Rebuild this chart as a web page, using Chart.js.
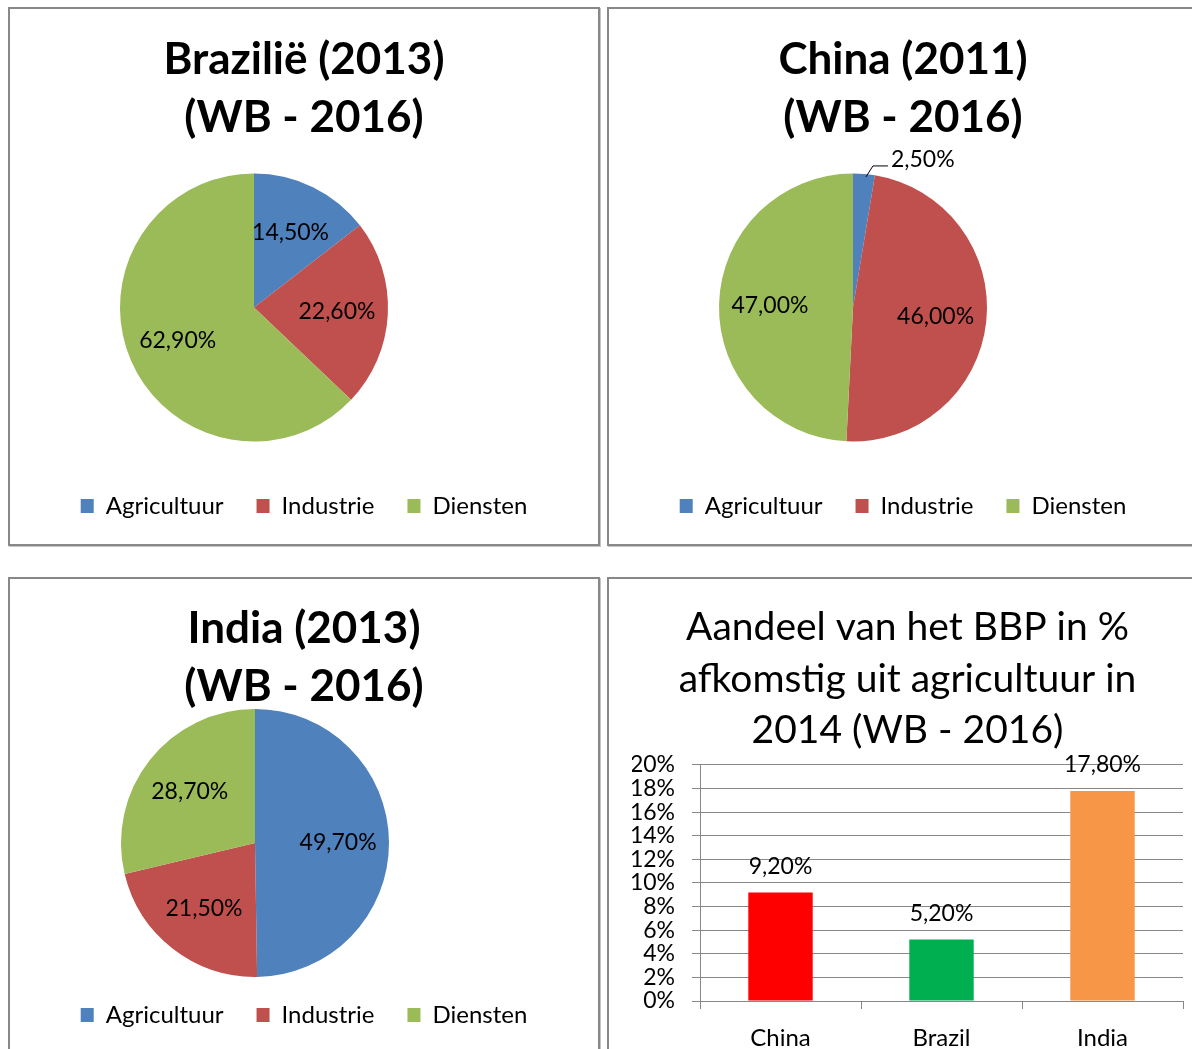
<!DOCTYPE html>
<html>
<head>
<meta charset="utf-8">
<script src="https://cdn.jsdelivr.net/npm/chart.js"></script>
<style>
    body { margin: 0; background: #fff; width: 1192px; height: 1049px; overflow: hidden; position: relative; }
    .panel { position: absolute; width: 592px; border: 2px solid #888; box-shadow: 1px 1px 0 #c4c4c4; box-sizing: border-box; background: #fff; }
    .panel .box { position: relative; width: 588px; height: 100%; }
    #p1 { left: 8px; top: 7px; height: 539px; }
    #p2 { left: 607px; top: 7px; height: 539px; }
    #p3 { left: 8px; top: 577px; height: 480px; }
    #p4 { left: 607px; top: 577px; height: 480px; }
</style>
</head>
<body>

<div class="panel" id="p1"><div class="box"><canvas id="brazilChart"></canvas></div></div>
<div class="panel" id="p2"><div class="box"><canvas id="chinaChart"></canvas></div></div>
<div class="panel" id="p3"><div class="box"><canvas id="indiaChart"></canvas></div></div>
<div class="panel" id="p4"><div class="box"><canvas id="agriChart"></canvas></div></div>

<script>
    // Sectors shown in the three pies
    const sectors = ['Agricultuur', 'Industrie', 'Diensten'];
    const sectorColors = ['#4F81BD', '#C0504D', '#9BBB59'];

    const brazilShares = [14.5, 22.6, 62.9];
    const chinaShares = [2.5, 46.0, 47.0];
    const indiaShares = [49.7, 21.5, 28.7];

    // Bar chart: agriculture share of GDP in 2014
    const countries = ['China', 'Brazil', 'India'];
    const agriShares = [9.2, 5.2, 17.8];
    const countryColors = ['#FF0000', '#00B050', '#F79646'];
    const yTicks = [0, 2, 4, 6, 8, 10, 12, 14, 16, 18, 20];

    const FONT = 'Lato, "Open Sans", sans-serif';

    function fmtPct(v) {
        return v.toFixed(2).replace('.', ',') + '%';
    }

    // put the pie at a fixed spot inside the canvas (Excel has it left of centre)
    const piePlacement = {
        id: 'piePlacement',
        afterLayout(chart, args, opts) {
            if (opts.cx == null) return;
            const a = chart.chartArea;
            a.left = opts.cx - opts.r;
            a.right = opts.cx + opts.r;
            a.top = opts.cy - opts.r;
            a.bottom = opts.cy + opts.r;
            a.width = 2 * opts.r;
            a.height = 2 * opts.r;
        }
    };

    // percentage labels in the slices, small slices get a leader line
    const sliceLabels = {
        id: 'sliceLabels',
        afterDraw(chart, args, opts) {
            if (!opts.show) return;
            const ctx = chart.ctx;
            const values = chart.data.datasets[0].data;
            ctx.save();
            ctx.font = '23px ' + FONT;
            ctx.fillStyle = '#000';
            ctx.strokeStyle = '#000';
            ctx.lineWidth = 1;
            chart.getDatasetMeta(0).data.forEach((arc, i) => {
                const p = arc.getProps(['x', 'y', 'startAngle', 'endAngle', 'outerRadius'], true);
                const mid = (p.startAngle + p.endAngle) / 2;
                const text = fmtPct(values[i]);
                if (values[i] < 5) {
                    const sx = p.x + Math.cos(mid) * (p.outerRadius - 1);
                    const sy = p.y + Math.sin(mid) * (p.outerRadius - 1);
                    ctx.beginPath();
                    ctx.moveTo(sx + 2, sy + 2);
                    ctx.lineTo(sx + 9, sy - 9);
                    ctx.lineTo(sx + 24, sy - 9);
                    ctx.stroke();
                    ctx.textAlign = 'left';
                    ctx.textBaseline = 'middle';
                    ctx.fillText(text, sx + 27, sy - 15);
                } else {
                    const r = p.outerRadius * 0.62;
                    ctx.textAlign = 'center';
                    ctx.textBaseline = 'middle';
                    ctx.fillText(text, p.x + Math.cos(mid) * r, p.y + Math.sin(mid) * r);
                }
            });
            ctx.restore();
        }
    };

    // value labels above the bars
    const barLabels = {
        id: 'barLabels',
        afterDatasetsDraw(chart, args, opts) {
            if (!opts.show) return;
            const ctx = chart.ctx;
            const values = chart.data.datasets[0].data;
            ctx.save();
            ctx.font = '23px ' + FONT;
            ctx.fillStyle = '#000';
            ctx.textAlign = 'center';
            ctx.textBaseline = 'middle';
            chart.getDatasetMeta(0).data.forEach((bar, i) => {
                ctx.fillText(fmtPct(values[i]), bar.x, bar.y - 26);
            });
            ctx.restore();
        }
    };

    Chart.register(piePlacement, sliceLabels, barLabels);

    function makePie(canvasId, titleLines, shares, place) {
        return new Chart(document.getElementById(canvasId), {
            type: 'pie',
            data: {
                labels: sectors,
                datasets: [{
                    data: shares,
                    backgroundColor: sectorColors,
                    borderWidth: 0
                }]
            },
            options: {
                responsive: true,
                maintainAspectRatio: false,
                animation: false,
                layout: { padding: { top: 0, bottom: place.legendPad } },
                plugins: {
                    title: {
                        display: true,
                        text: titleLines,
                        color: '#000',
                        font: { family: FONT, size: 44, weight: 'bold', lineHeight: 1.318 },
                        padding: { top: place.titleTop, bottom: 0 }
                    },
                    legend: {
                        position: 'bottom',
                        labels: {
                            color: '#000',
                            font: { family: FONT, size: 24 },
                            boxWidth: 13,
                            boxHeight: 14,
                            padding: 33
                        }
                    },
                    tooltip: { enabled: false },
                    piePlacement: { cx: place.cx, cy: place.cy, r: 134 },
                    sliceLabels: { show: true }
                }
            }
        });
    }

    makePie('brazilChart', ['Brazilië (2013)', '(WB - 2016)'], brazilShares,
        { cx: 244, cy: 298.5, titleTop: 22, legendPad: 16 });
    makePie('chinaChart', ['China (2011)', '(WB - 2016)'], chinaShares,
        { cx: 244, cy: 298.5, titleTop: 22, legendPad: 16 });
    makePie('indiaChart', ['India (2013)', '(WB - 2016)'], indiaShares,
        { cx: 245, cy: 264, titleTop: 21, legendPad: 18 });

    new Chart(document.getElementById('agriChart'), {
        type: 'bar',
        data: {
            labels: countries,
            datasets: [{
                data: agriShares,
                backgroundColor: countryColors,
                barPercentage: 0.4,
                categoryPercentage: 1.0
            }]
        },
        options: {
            responsive: true,
            maintainAspectRatio: false,
            animation: false,
            // left padding pushes the centred title right, y axis width compensates
            layout: { padding: { left: 23, right: 14, top: 0, bottom: 0 } },
            plugins: {
                legend: { display: false },
                tooltip: { enabled: false },
                title: {
                    display: true,
                    text: ['Aandeel van het BBP in %', 'afkomstig uit agricultuur in', '2014 (WB - 2016)'],
                    color: '#000',
                    font: { family: FONT, size: 39, weight: 'normal', lineHeight: 1.32 },
                    padding: { top: 23, bottom: 8.5 }
                },
                barLabels: { show: true }
            },
            scales: {
                y: {
                    min: 0,
                    max: 20,
                    afterFit: s => { s.width = 68; },
                    afterBuildTicks: s => { s.ticks = yTicks.map(v => ({ value: v })); },
                    ticks: {
                        color: '#000',
                        padding: 17,
                        autoSkip: false,
                        font: { family: FONT, size: 23, lineHeight: 1 },
                        callback: v => v + '%'
                    },
                    grid: { color: '#888', tickLength: 8 },
                    border: { color: '#888' }
                },
                x: {
                    afterFit: s => { s.height = 54; },
                    ticks: {
                        color: '#000',
                        padding: 15,
                        font: { family: FONT, size: 24 }
                    },
                    grid: { drawOnChartArea: false, color: '#888', tickLength: 8 },
                    border: { color: '#888' }
                }
            }
        }
    });
</script>
</body>
</html>
